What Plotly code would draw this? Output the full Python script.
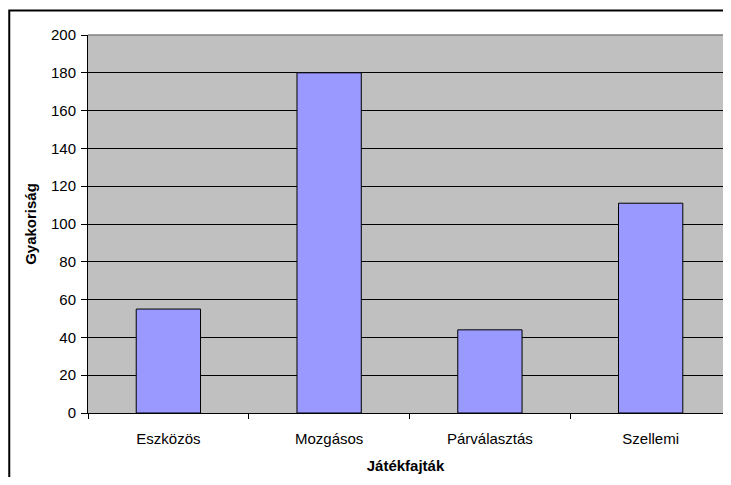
import plotly.graph_objects as go

categories = ['Eszközös', 'Mozgásos', 'Párválasztás', 'Szellemi']
values = [55, 180, 44, 111]
y_ticks = [0, 20, 40, 60, 80, 100, 120, 140, 160, 180, 200]

FONT = 'Liberation Sans, Arial, sans-serif'

# the page body has an 8px margin, so the figure is placed 8px in and down
PAGE_OFF = 8


def create_frequency_chart():
    """Bar chart of game types vs frequency, Excel look"""
    fig = go.Figure(go.Bar(
        x=categories, y=values,
        marker=dict(color='#9999FF', line=dict(color='#000000', width=1)),
    ))
    fig.update_layout(
        width=731 - 2 * PAGE_OFF, height=485 - 2 * PAGE_OFF,
        margin=dict(l=88 - PAGE_OFF, r=0, t=35 - PAGE_OFF, b=64),
        paper_bgcolor='white',
        plot_bgcolor='#C0C0C0',
        bargap=0.6,
        showlegend=False,
        font=dict(family=FONT, size=15, color='black'),
    )
    fig.update_xaxes(
        range=[-0.5, 3.45],  # the original picture is cropped on the right
        showgrid=False,
        showline=True, linecolor='black', linewidth=1,
        ticks='outside', ticklen=5, tickcolor='black',
        tickson='boundaries', ticklabelstandoff=12,
        tickfont=dict(size=15),
        title=dict(text='<b>Játékfajták</b>', font=dict(size=15), standoff=14),
    )
    fig.update_yaxes(
        range=[0, 200], tickvals=y_ticks,
        showgrid=True, gridcolor='black', gridwidth=1,
        zeroline=False,
        showline=True, linecolor='black', linewidth=1,
        ticks='outside', ticklen=6, tickcolor='black',
        ticklabelstandoff=2,
        tickfont=dict(size=15),
        title=dict(text='<b>Gyakoriság</b>', font=dict(size=15), standoff=10),
    )
    # gray plot-area border on top, outer chart frame
    fig.add_shape(type='line', xref='paper', yref='paper', x0=0, x1=1, y0=1, y1=1,
                  line=dict(color='#808080', width=1.5))
    fig.add_shape(type='rect', xref='paper', yref='paper',
                  x0=-0.124, x1=1.05, y0=-0.3, y1=1.065,
                  line=dict(color='black', width=2), layer='above')
    return fig


fig = create_frequency_chart()
fig.write_html("out.html")
